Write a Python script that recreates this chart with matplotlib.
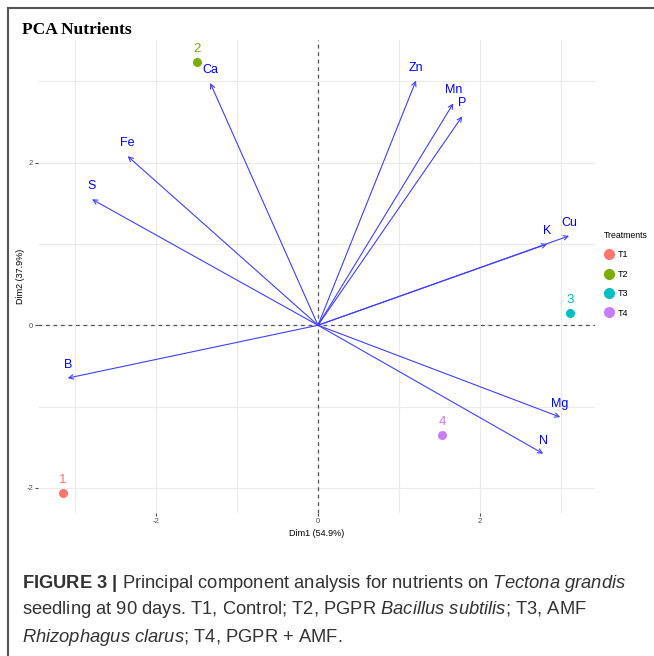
import matplotlib
matplotlib.use("Agg")
import matplotlib.pyplot as plt
from matplotlib.lines import Line2D

plt.rcParams['font.family'] = ['Liberation Sans', 'DejaVu Sans']
plt.rcParams['axes.unicode_minus'] = False
plt.rcParams['mathtext.fontset'] = 'custom'
plt.rcParams['mathtext.rm'] = 'Liberation Sans'
plt.rcParams['mathtext.it'] = 'Liberation Sans:italic'
plt.rcParams['mathtext.bf'] = 'Liberation Sans:bold'

# data
treatments = ["T1", "T2", "T3", "T4"]
point_labels = ["1", "2", "3", "4"]
dim1 = [-3.15, -1.49, 3.11, 1.53]
dim2 = [-2.06, 3.24, 0.15, -1.35]
colors = ["#F8766D", "#7CAE00", "#00BFC4", "#C77CFF"]

nutrients = ["Ca", "Fe", "S", "B", "Zn", "Mn", "P", "K", "Cu", "Mg", "N"]
load1 = [-1.33, -2.35, -2.79, -3.09, 1.21, 1.67, 1.78, 2.83, 3.10, 2.99, 2.78]
load2 = [2.98, 2.08, 1.55, -0.65, 3.01, 2.73, 2.57, 1.00, 1.10, -1.13, -1.58]

fig = plt.figure(figsize=(6.54, 6.56), dpi=100)
ax = fig.add_axes([38/654, 1 - 513/656, (595-38)/654, (513-40)/656])
ax.set_xlim(-3.457, 3.42)
ax.set_ylim(-2.31, 3.51)

for s in ax.spines.values():
    s.set_visible(False)
ax.set_xticks([-2, 0, 2])
ax.set_yticks([-2, 0, 2])
ax.set_xticks([-3, -1, 1, 3], minor=True)
ax.set_yticks([-1, 1, 3], minor=True)
ax.grid(True, which='both', color='#EBEBEB', lw=0.8)
ax.set_axisbelow(True)
ax.tick_params(which='major', length=2, color='#4D4D4D', labelsize=5.5,
               labelcolor='#4D4D4D', pad=1.5)
ax.tick_params(which='minor', length=0)

ax.axhline(0, color='#555555', ls=(0, (3, 3)), lw=0.9)
ax.axvline(0, color='#555555', ls=(0, (3, 3)), lw=0.9)

for name, x, y in zip(nutrients, load1, load2):
    ax.annotate("", xy=(x, y), xytext=(0, 0),
                arrowprops=dict(arrowstyle='->', color='#4040FF', lw=0.8,
                                shrinkA=0, shrinkB=0, mutation_scale=8))
    ax.annotate(name, xy=(x, y), xytext=(0, 5), textcoords='offset points',
                ha='center', va='bottom', color='#0000FF', fontsize=9)

for lab, x, y, c in zip(point_labels, dim1, dim2, colors):
    ax.plot(x, y, 'o', color=c, ms=6.5, mec='none')
    ax.annotate(lab, xy=(x, y), xytext=(0, 5), textcoords='offset points',
                ha='center', va='bottom', color=c, fontsize=9.5)

ax.set_xlabel("Dim1 (54.9%)", fontsize=6.5, labelpad=3)
ax.set_ylabel("Dim2 (37.9%)", fontsize=6.5, labelpad=1)

handles = [Line2D([], [], marker='o', ls='none', color=c, ms=8, mec='none')
           for c in colors]
leg = fig.legend(handles, treatments, title="Treatments", loc='upper left',
                 bbox_to_anchor=(604/654, 1 - 231/656), frameon=False,
                 fontsize=6.5, title_fontsize=6.3, handletextpad=0.5,
                 labelspacing=1.15, handlelength=1.0, borderaxespad=0,
                 borderpad=0)
leg._legend_box.align = "left"

fig.text(22/654, 1 - 30/656, "PCA Nutrients", family='Liberation Serif',
         weight='bold', fontsize=12.5, va='center', ha='left')

# frame around the figure
fig.add_artist(Line2D([8/654, 1], [1 - 8/656, 1 - 8/656], color='#555555', lw=1.5))
fig.add_artist(Line2D([8/654, 8/654], [0, 1 - 8/656], color='#555555', lw=1.5))

cap = [r"$\mathbf{FIGURE\ 3\ |}$ Principal component analysis for nutrients on $\mathit{Tectona\ grandis}$",
       r"seedling at 90 days. T1, Control; T2, PGPR $\mathit{Bacillus\ subtilis}$; T3, AMF",
       r"$\mathit{Rhizophagus\ clarus}$; T4, PGPR + AMF."]
for i, line in enumerate(cap):
    fig.text(22/654, 1 - (583 + 27*i)/656, line, fontsize=13.2, color='#333333',
             va='center', ha='left')

fig.savefig("out.png", dpi=100)
